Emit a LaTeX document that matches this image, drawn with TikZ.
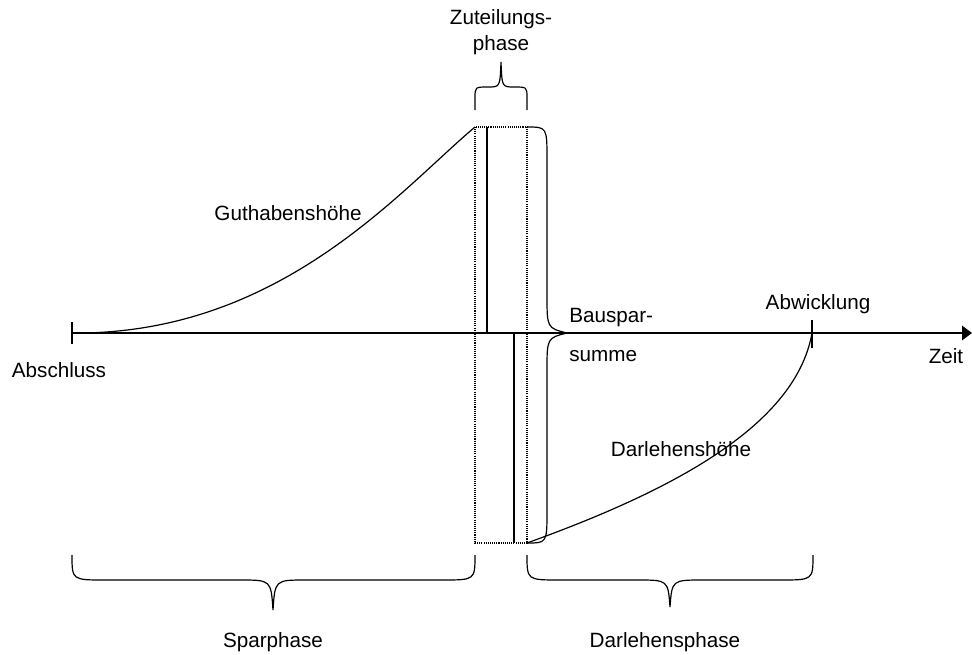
\documentclass[tikz,border=0pt]{standalone}
\usepackage{fontspec}
\setmainfont{Liberation Sans}
\usetikzlibrary{arrows.meta}

\begin{document}
\begin{tikzpicture}[
    x=0.75pt, y=-0.75pt,
    line/.style={line width=0.9pt},
    txt/.style={font=\fontsize{15.5}{19}\selectfont, align=center, inner sep=0pt},
    klammer/.style={line width=0.9pt},
    punkte/.style={line width=1.1pt, dash pattern=on 0.8pt off 0.8pt},
]
    \useasboundingbox (0,0) rectangle (972,654);

    % Koordinaten
    \coordinate (start) at (72,333);
    \coordinate (ende) at (812,333);
    \coordinate (zlo) at (475,127);
    \coordinate (zru) at (527,543);

    % Zeitachse
    \draw[line, -{Triangle[length=7.5pt, width=11pt]}] (start) -- (972,333) coordinate (zeit);
    \draw[line] (72,322) -- (72,344);
    \draw[line] (812,320) -- (812,348);

    % Zuteilung
    \draw[punkte] (zlo) rectangle (zru);
    \draw[line] (487,127) -- (487,333);
    \draw[line] (514,333) -- (514,543);

    % Kurven
    \draw[line] (start) .. controls (280,335) and (400,190) .. (zlo);
    \draw[line] (zru) .. controls (660,495) and (795,430) .. (ende);

    % Klammer Bausparsumme
    \draw[klammer] (527,127) .. controls (547,127) .. (547,160) -- (547,295)
        .. controls (547,328) .. (567,333) .. controls (547,338) .. (547,371)
        -- (547,510) .. controls (547,543) .. (527,543);

    % Klammer Zuteilungsphase
    \draw[klammer] (475,110) -- (475,98) .. controls (475,87) .. (488,87)
        .. controls (500,87) .. (501,62) .. controls (502,87) .. (514,87)
        .. controls (527,87) .. (527,98) -- (527,110);

    % Klammern unten
    \draw[klammer] (72,555) .. controls (72,580) .. (105,580) -- (240,580)
        .. controls (271,580) .. (273,610) .. controls (275,580) .. (306,580)
        -- (442,580) .. controls (475,580) .. (475,555);
    \draw[klammer] (527,555) .. controls (527,580) .. (560,580) -- (637,580)
        .. controls (668,580) .. (670,607) .. controls (672,580) .. (703,580)
        -- (780,580) .. controls (813,580) .. (813,555);

    % Beschriftungen
    \node[txt] (zuteilung) at (501,32) {Zuteilungs-\\phase};
    \node[txt] (guthaben) at (288,213) {Guthabenshöhe};
    \node[txt, anchor=west] (bauspar) at (569,318) {Bauspar-};
    \node[txt, anchor=west] (summe) at (569,356) {summe};
    \node[txt] (abwicklung) at (818,304) {Abwicklung};
    \node[txt] (abschluss) at (59,370) {Abschluss};
    \node[txt] (zeitlabel) at (946,356) {Zeit};
    \node[txt] (darlehen) at (681,449) {Darlehenshöhe};
    \node[txt] (sparphase) at (273,642) {Sparphase};
    \node[txt] (darlehensphase) at (665,642) {Darlehensphase};
\end{tikzpicture}
\end{document}
